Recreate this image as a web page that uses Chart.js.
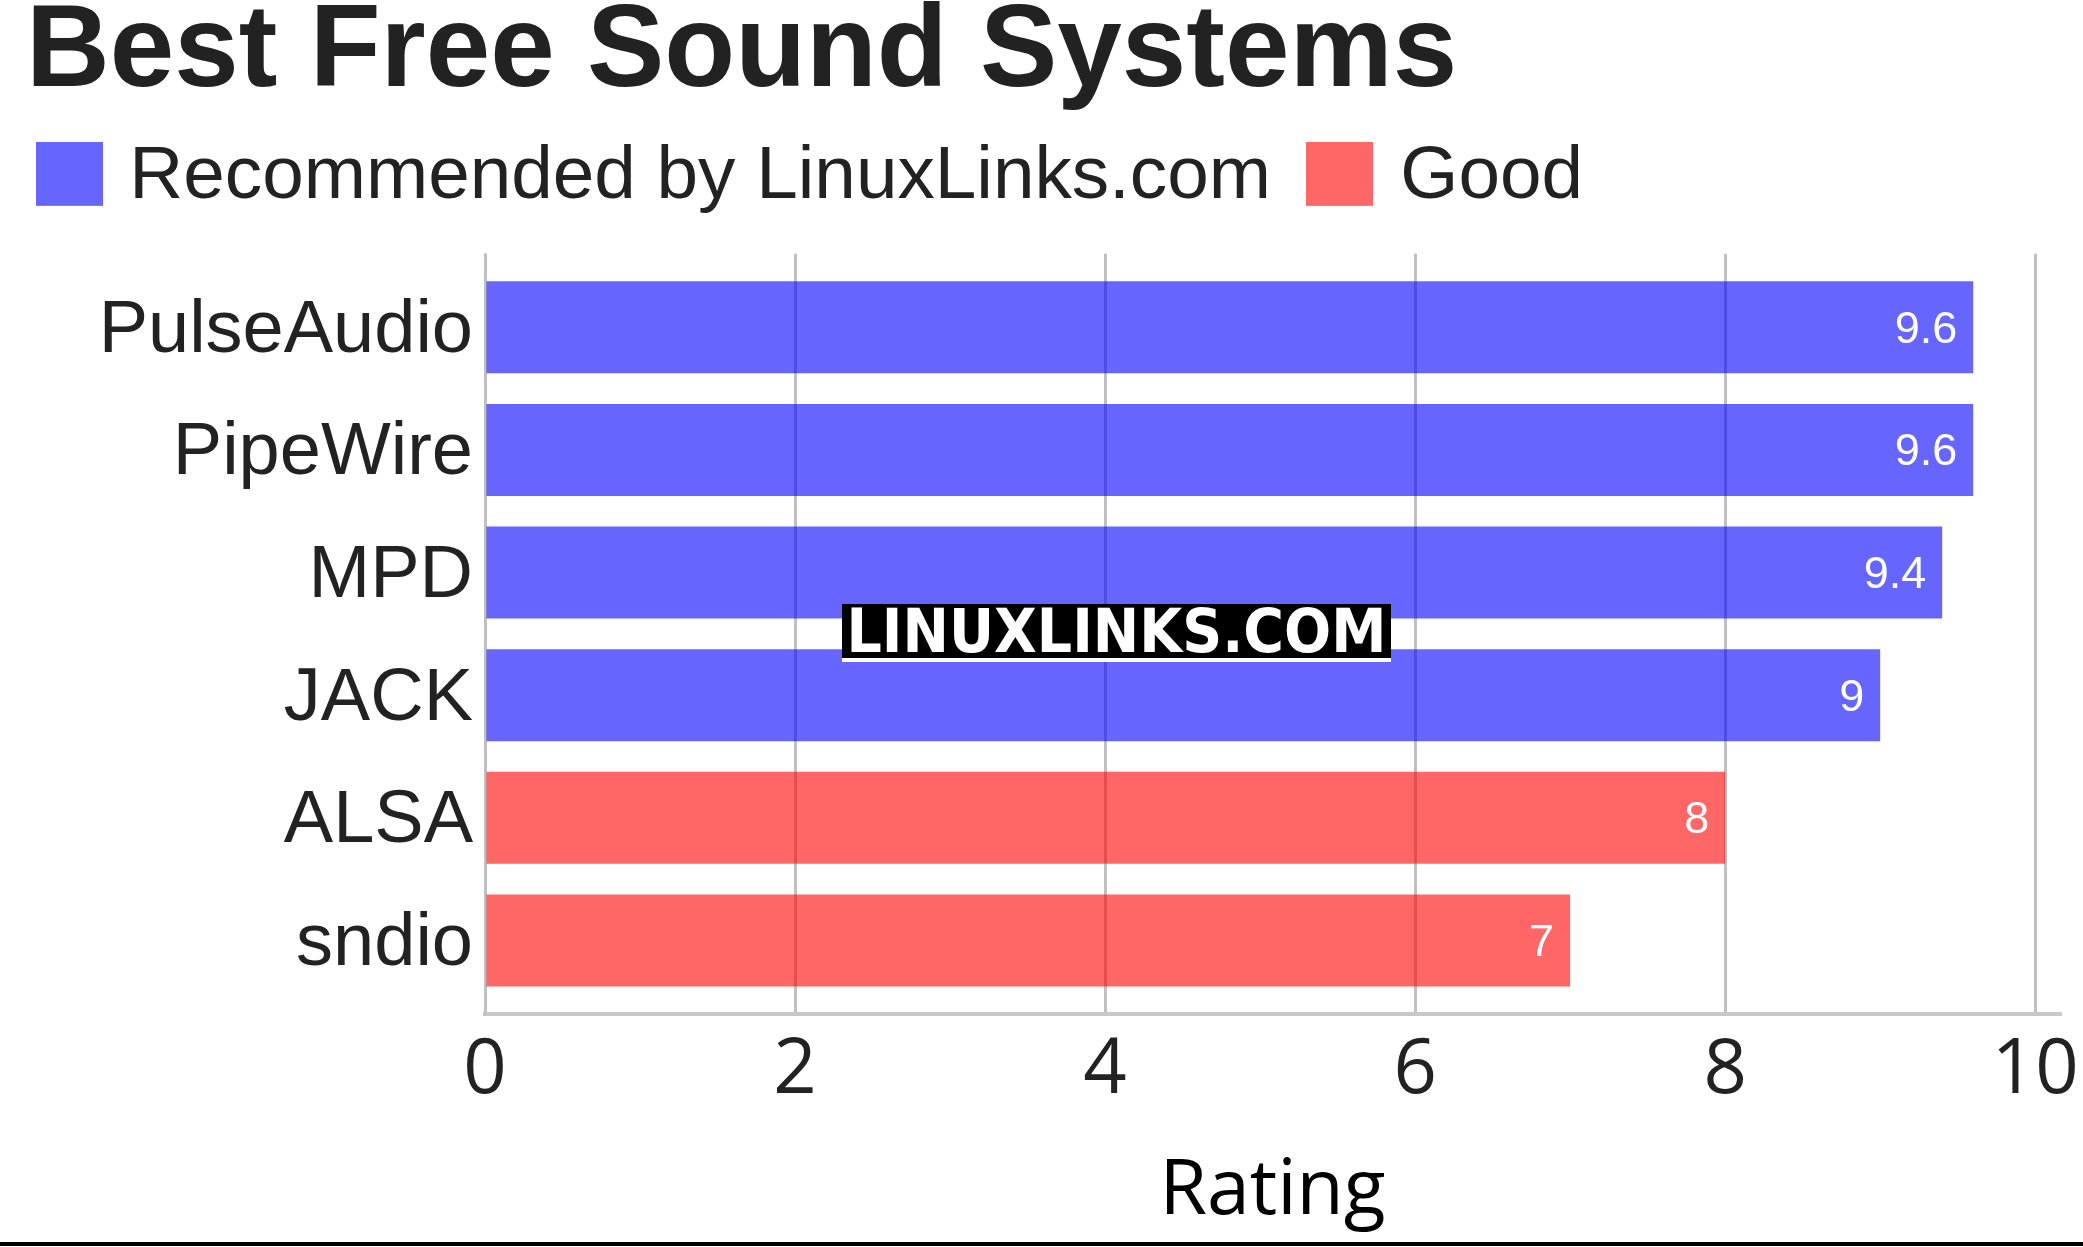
<!DOCTYPE html>
<html>
<head>
<meta charset="utf-8">
<script src="https://cdn.jsdelivr.net/npm/chart.js@4/dist/chart.umd.min.js"></script>
<style>
  html, body { margin: 0; padding: 0; background: #fff; }
  #wrap { width: 2083px; height: 1242px; position: relative; }
  canvas { display: block; }
  #rule { width: 2083px; height: 4px; background: #000; }
</style>
</head>
<body>
<div id="wrap"><canvas id="c" width="2083" height="1242"></canvas></div>
<div id="rule"></div>
<script>
const titleText = 'Best Free Sound Systems';
const categories = ['PulseAudio', 'PipeWire', 'MPD', 'JACK', 'ALSA', 'sndio'];
const ratings = [9.6, 9.6, 9.4, 9, 8, 7];
const groups = [0, 0, 0, 0, 1, 1];
const seriesNames = ['Recommended by LinuxLinks.com', 'Good'];
const seriesColors = ['rgba(0,0,255,0.6)', 'rgba(255,0,0,0.6)'];
const xTickValues = [0, 2, 4, 6, 8, 10];
const xAxisTitle = 'Rating';
const watermarkText = 'LINUXLINKS.COM';

const datasets = seriesNames.map((name, s) => ({
  label: name,
  backgroundColor: seriesColors[s],
  borderWidth: 0,
  grouped: false,
  categoryPercentage: 1,
  barPercentage: 0.75,
  xAxisID: 'x',
  yAxisID: 'y',
  data: categories.map((c, i) => groups[i] === s ? { x: ratings[i], y: i } : null).filter(d => d)
}));

// legend swatches: 67 x 64 colour square, placed in the upper part of a 67 x 72 image
const swatches = seriesColors.map(col => {
  const cv = document.createElement('canvas');
  cv.width = 67; cv.height = 72;
  const g = cv.getContext('2d');
  g.fillStyle = col; g.fillRect(0, 0, 67, 64);
  return cv;
});

const chartTitle = {
  id: 'chartTitle',
  afterDraw(chart) {
    const ctx = chart.ctx;
    ctx.save();
    ctx.font = 'bold 116px "Liberation Sans"';
    ctx.fillStyle = '#222';
    ctx.textAlign = 'left';
    ctx.textBaseline = 'alphabetic';
    ctx.fillText(titleText, 26, 86);
    ctx.restore();
  }
};

const valueLabels = {
  id: 'valueLabels',
  afterDraw(chart) {
    const ctx = chart.ctx;
    ctx.save();
    ctx.font = '45px "Liberation Sans"';
    ctx.fillStyle = '#ffffff';
    ctx.textAlign = 'right';
    ctx.textBaseline = 'middle';
    chart.data.datasets.forEach((ds, di) => {
      const meta = chart.getDatasetMeta(di);
      meta.data.forEach((el, j) => {
        ctx.fillText(String(ds.data[j].x), el.x - 16, el.y + 3);
      });
    });
    ctx.restore();
  }
};

const watermark = {
  id: 'watermark',
  afterDraw(chart) {
    const ctx = chart.ctx;
    const bx = 842, by = 604, bw = 549, bh = 54;
    ctx.save();
    ctx.fillStyle = '#000';
    ctx.fillRect(bx, by, bw, bh);
    ctx.fillStyle = '#fff';
    ctx.fillRect(bx, by + bh, bw, 4);
    ctx.font = 'bold 60px "DejaVu Sans"';
    ctx.textAlign = 'center';
    ctx.textBaseline = 'alphabetic';
    const w = ctx.measureText(watermarkText).width;
    ctx.translate(bx + bw / 2, by + 48);
    ctx.scale(540 / w, 1);
    ctx.fillText(watermarkText, 0, 0);
    ctx.restore();
  }
};

const chart = new Chart(document.getElementById('c'), {
  type: 'bar',
  data: { datasets },
  plugins: [valueLabels, watermark, chartTitle],
  options: {
    indexAxis: 'y',
    responsive: false,
    animation: false,
    devicePixelRatio: 1,
    layout: { padding: { left: 0, right: 23, top: 94.5, bottom: 0 } },
    plugins: {
      title: { display: false },
      legend: {
        display: true, position: 'top', align: 'start',
        labels: {
          color: '#222', font: { family: 'Liberation Sans', size: 74.7 },
          usePointStyle: true, pointStyleWidth: 46, padding: 46,
          generateLabels(ch) {
            const items = Chart.defaults.plugins.legend.labels.generateLabels(ch);
            items.forEach((it, i) => { it.pointStyle = swatches[i]; });
            return items;
          }
        }
      },
      tooltip: { enabled: false }
    },
    scales: {
      x: {
        type: 'linear', position: 'bottom', min: 0, max: 10.16,
        afterBuildTicks: s => { s.ticks = xTickValues.map(v => ({ value: v })); },
        afterFit: s => { s.height = 228; s.paddingLeft = 0; s.paddingRight = 0; },
        grid: { color: '#c0c0c0', lineWidth: 3, drawTicks: false },
        border: { display: true, color: '#c8c8c8', width: 4 },
        ticks: { color: '#222', font: { family: 'Open Sans', size: 76 }, padding: 12, maxRotation: 0 },
        title: {
          display: true, text: xAxisTitle, color: '#000',
          font: { family: 'Open Sans', size: 77 }, padding: { top: 0, bottom: 4 }
        }
      },
      xTop: {
        type: 'linear', axis: 'x', position: 'top', display: true,
        grid: { display: false, drawTicks: false }, border: { display: false },
        ticks: { display: false },
        afterFit: s => { s.height = 28.5; s.paddingLeft = 0; s.paddingRight = 0; }
      },
      y: {
        type: 'linear', reverse: true, min: -0.6, max: 5.6, offset: false,
        afterBuildTicks: s => { s.ticks = categories.map((c, i) => ({ value: i })); },
        afterFit: s => { s.width = 485; },
        grid: { display: false, drawTicks: false, offset: false },
        border: { display: true, color: '#c0c0c0', width: 2 },
        ticks: {
          color: '#222', font: { family: 'Liberation Sans', size: 74 }, padding: 12, labelOffset: 4,
          callback: v => categories[v]
        }
      }
    }
  }
});
</script>
</body>
</html>
